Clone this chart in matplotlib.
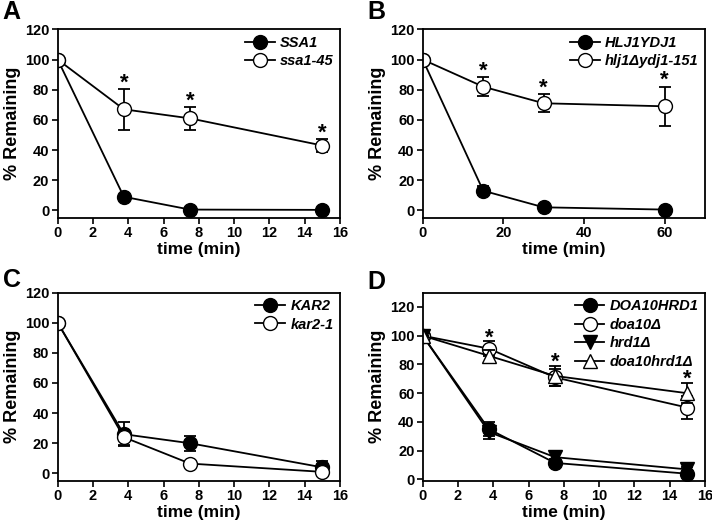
import matplotlib.pyplot as plt

plt.rcParams['font.family'] = ['Liberation Sans', 'DejaVu Sans']
plt.rcParams['font.weight'] = 'bold'

# Panel A
time_a = [0, 3.75, 7.5, 15]
ssa1 = [100, 9, 0.5, 0.3]
ssa1_err = [0, 1, 0.5, 0.5]
ssa1_45 = [100, 67, 61, 43]
ssa1_45_err = [0, 13.5, 7.5, 4]

# Panel B
time_b = [0, 15, 30, 60]
hlj1ydj1 = [100, 13, 2, 0.5]
hlj1ydj1_err = [0, 3, 1, 0.5]
hlj1_ydj1_151 = [100, 82, 71, 69]
hlj1_ydj1_151_err = [0, 6.5, 6, 13]

# Panel C
time_c = [0, 3.75, 7.5, 15]
kar2 = [100, 26, 20, 4]
kar2_err = [0, 8, 5, 4]
kar2_1 = [100, 24, 6.5, 1]
kar2_1_err = [0, 5, 1, 1]

# Panel D
time_d = [0, 3.75, 7.5, 15]
doa10hrd1 = [100, 35, 11.5, 4]
doa10hrd1_err = [0, 5, 3, 2]
doa10 = [100, 91, 71, 50]
doa10_err = [0, 5, 6, 8]
hrd1 = [100, 33, 15.5, 7]
hrd1_err = [0, 5, 4, 2]
doa10_hrd1 = [100, 86, 72, 60]
doa10_hrd1_err = [0, 4, 7, 7]

fig = plt.figure(figsize=(7.12, 5.25), dpi=100)
ax_a = fig.add_axes([0.081, 0.585, 0.3965, 0.359])
ax_b = fig.add_axes([0.5937, 0.585, 0.3965, 0.359])
ax_c = fig.add_axes([0.081, 0.084, 0.3965, 0.3587])
ax_d = fig.add_axes([0.5937, 0.084, 0.3965, 0.3587])


def series(ax, x, y, err, marker, fill, label):
    ax.errorbar(x, y, yerr=err, fmt='none', ecolor='black',
                elinewidth=1.3, capsize=4, capthick=1.3)
    ax.plot(x, y, '-' + marker, color='black', mfc=fill, mec='black',
            ms=10, lw=1.3, label=label)


def style(ax, letter, letter_y, xlim, xticks, ylim, yticks, spacing=0.3):
    ax.set_xlim(*xlim)
    ax.set_ylim(*ylim)
    ax.set_xticks(xticks)
    ax.set_yticks(yticks)
    ax.tick_params(direction='out', length=4, width=1.2, labelsize=10.5, pad=2)
    for lab in ax.get_xticklabels() + ax.get_yticklabels():
        lab.set_fontweight('bold')
    for s in ax.spines.values():
        s.set_linewidth(1.3)
    ax.set_xlabel('time (min)', fontsize=12.5, fontweight='bold', labelpad=1)
    ax.set_ylabel('% Remaining', fontsize=13, fontweight='bold')
    ax.yaxis.set_label_coords(-0.13, 0.5)
    ax.text(-0.195, letter_y, letter, transform=ax.transAxes, fontsize=18, fontweight='bold',
            ha='left', va='top')
    ax.legend(loc='upper right', frameon=False, handlelength=2.05, borderaxespad=0.15,
              borderpad=0.3, labelspacing=spacing, handletextpad=0.35,
              prop={'style': 'italic', 'weight': 'bold', 'size': 10.5})


def stars(ax, x, y, err, pad):
    for xi, yi, ei in zip(x[1:], y[1:], err[1:]):
        ax.text(xi, yi + ei + pad, '*', ha='center', va='center', fontsize=16, fontweight='bold')


series(ax_a, time_a, ssa1, ssa1_err, 'o', 'black', 'SSA1')
series(ax_a, time_a, ssa1_45, ssa1_45_err, 'o', 'white', 'ssa1-45')
stars(ax_a, time_a, ssa1_45, ssa1_45_err, 4)
style(ax_a, 'A', 1.155, (0, 16), range(0, 17, 2), (-5, 120), range(0, 121, 20))

series(ax_b, time_b, hlj1ydj1, hlj1ydj1_err, 'o', 'black', 'HLJ1YDJ1')
series(ax_b, time_b, hlj1_ydj1_151, hlj1_ydj1_151_err, 'o', 'white', 'hlj1\u0394ydj1-151')
stars(ax_b, time_b, hlj1_ydj1_151, hlj1_ydj1_151_err, 4)
style(ax_b, 'B', 1.155, (0, 70), range(0, 61, 20), (-5, 120), range(0, 121, 20))

series(ax_c, time_c, kar2, kar2_err, 'o', 'black', 'KAR2')
series(ax_c, time_c, kar2_1, kar2_1_err, 'o', 'white', 'kar2-1')
style(ax_c, 'C', 1.13, (0, 16), range(0, 17, 2), (-5, 120), range(0, 121, 20))

series(ax_d, time_d, doa10hrd1, doa10hrd1_err, 'o', 'black', 'DOA10HRD1')
series(ax_d, time_d, doa10, doa10_err, 'o', 'white', 'doa10\u0394')
series(ax_d, time_d, hrd1, hrd1_err, 'v', 'black', 'hrd1\u0394')
series(ax_d, time_d, doa10_hrd1, doa10_hrd1_err, '^', 'white', 'doa10hrd1\u0394')
top_d = [max(a + ea, b + eb) for a, ea, b, eb in zip(doa10, doa10_err, doa10_hrd1, doa10_hrd1_err)]
stars(ax_d, time_d, top_d, [0] * 4, 2.5)
style(ax_d, 'D', 1.12, (0, 16), range(0, 17, 2), (-1, 130), range(0, 121, 20), spacing=0.32)

fig.savefig('out.png', dpi=100)
